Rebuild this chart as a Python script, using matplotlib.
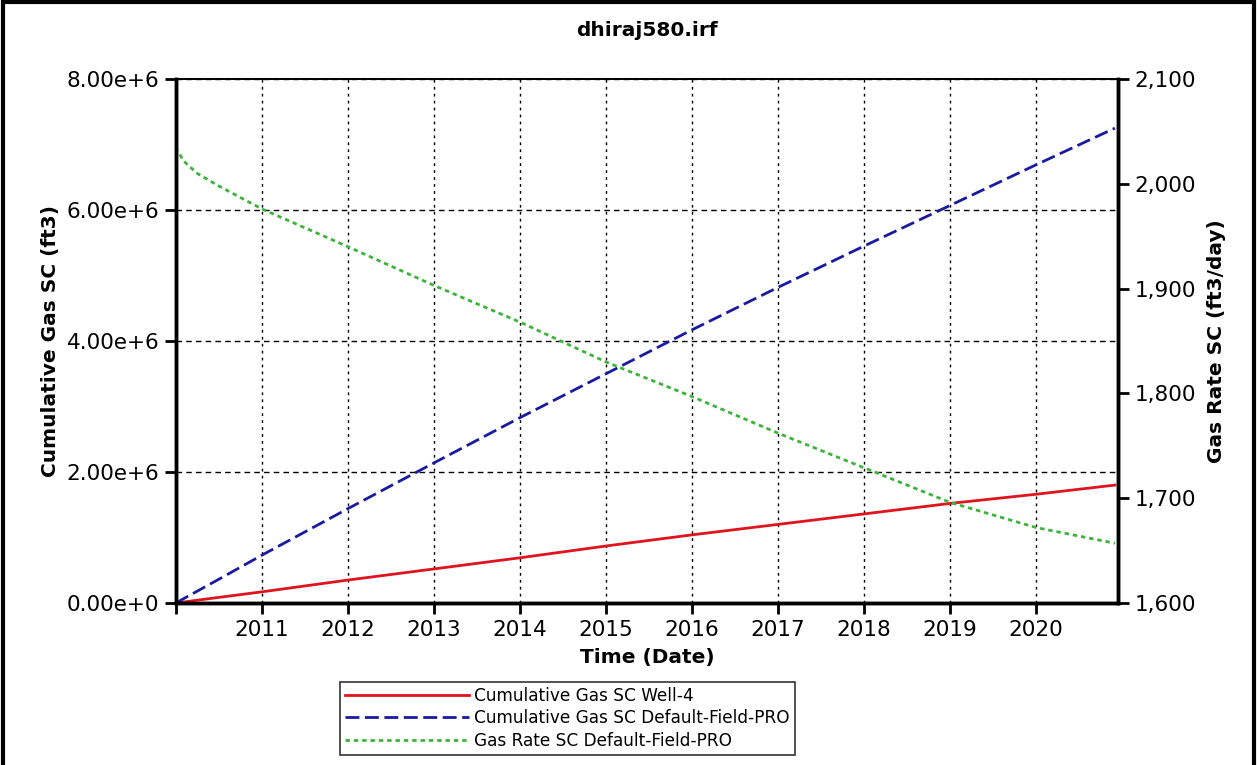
import matplotlib
matplotlib.use("Agg")
import matplotlib.pyplot as plt
import matplotlib.dates as mdates
from matplotlib.ticker import FuncFormatter, MultipleLocator
from matplotlib.patches import Rectangle
from datetime import datetime

# Data
dates = ["2010-01-01", "2010-02-01", "2010-04-01", "2010-07-01", "2011-01-01",
         "2012-01-01", "2013-01-01", "2014-01-01", "2015-01-01", "2016-01-01",
         "2017-01-01", "2018-01-01", "2019-01-01", "2020-01-01", "2020-12-01"]
cum_gas_well4 = [0.0, 0.014e6, 0.042e6, 0.085e6, 0.17e6,
                 0.35e6, 0.52e6, 0.69e6, 0.87e6, 1.04e6,
                 1.20e6, 1.36e6, 1.52e6, 1.66e6, 1.80e6]
cum_gas_field = [0.0, 0.063e6, 0.18e6, 0.36e6, 0.73e6,
                 1.44e6, 2.14e6, 2.83e6, 3.50e6, 4.17e6,
                 4.82e6, 5.45e6, 6.07e6, 6.69e6, 7.25e6]
gas_rate_field = [2035, 2022, 2010, 1998, 1976,
                  1940, 1903, 1868, 1830, 1797,
                  1762, 1729, 1696, 1672, 1657]

x = [datetime.strptime(d, "%Y-%m-%d") for d in dates]

plt.rcParams["font.family"] = ["DejaVu Sans"]
fs = 14.5
tick_fs = 15.5
leg_fs = 12.2

fig = plt.figure(figsize=(12.57, 7.65), dpi=100)
ax = fig.add_axes([0.140, 0.2118, 0.7494, 0.6849])
ax2 = ax.twinx()

l1, = ax.plot(x, cum_gas_well4, color="#e0141e", lw=2, linestyle="-", label="Cumulative Gas SC Well-4")
l2, = ax.plot(x, cum_gas_field, color="#1a1aa0", lw=2, linestyle=(0, (5, 2)), label="Cumulative Gas SC Default-Field-PRO")
l3, = ax2.plot(x, gas_rate_field, color="#3cb43c", lw=2, linestyle=(0, (1.6, 1.4)), label="Gas Rate SC Default-Field-PRO")

# axes ranges and ticks
ax.set_xlim(datetime(2010, 1, 1), datetime(2020, 12, 14))
ax.set_ylim(0, 8e6)
ax2.set_ylim(1600, 2100)
ax.xaxis.set_major_locator(mdates.YearLocator())
ax.xaxis.set_major_formatter(FuncFormatter(lambda v, p: "" if mdates.num2date(v).year == 2010 else mdates.num2date(v).strftime("%Y")))
ax.yaxis.set_major_locator(MultipleLocator(2e6))
ax2.yaxis.set_major_locator(MultipleLocator(100))

def sci_fmt(v, pos):
    if v == 0:
        return "0.00e+0"
    exp = 6
    return "{:.2f}e+{}".format(v / 10 ** exp, exp)

ax.yaxis.set_major_formatter(FuncFormatter(sci_fmt))
ax2.yaxis.set_major_formatter(FuncFormatter(lambda v, p: "{:,.0f}".format(v)))

ax.tick_params(axis="both", direction="out", length=8, width=2, labelsize=tick_fs, pad=4, colors="black")
ax2.tick_params(axis="y", direction="out", length=8, width=2, labelsize=tick_fs, pad=4)

# grid: dotted vertical, dashed horizontal
ax.xaxis.grid(True, linestyle=(0, (2, 3)), color="black", lw=1)
ax.yaxis.grid(True, linestyle=(0, (4, 3)), color="black", lw=1)
ax.set_axisbelow(True)

# spines
for s in ["left", "bottom", "right"]:
    ax.spines[s].set_linewidth(2.5)
    ax2.spines[s].set_linewidth(2.5)
ax.spines["top"].set_linewidth(1.2)
ax2.spines["top"].set_linewidth(1.2)

ax.set_title("dhiraj580.irf", fontsize=fs, fontweight="bold", pad=31)
ax.set_xlabel("Time (Date)", fontsize=fs, fontweight="bold", labelpad=6)
ax.set_ylabel("Cumulative Gas SC (ft3)", fontsize=fs, fontweight="bold", labelpad=5)
ax2.set_ylabel("Gas Rate SC (ft3/day)", fontsize=fs, fontweight="bold", labelpad=8)

# legend box under the chart
leg = fig.legend(handles=[l1, l2, l3], loc="upper left", bbox_to_anchor=(0.2705, 0.1085),
                 fontsize=leg_fs, frameon=True, fancybox=False, handlelength=7.3,
                 handletextpad=0.3, labelspacing=0.25, borderpad=0.3, borderaxespad=0)
leg.get_frame().set_edgecolor("black")
leg.get_frame().set_linewidth(1.2)

# black frame around the whole picture
fig.patches.append(Rectangle((0.002, -0.02), 0.996, 1.017, transform=fig.transFigure,
                             fill=False, edgecolor="black", lw=3))

fig.savefig("out.png", dpi=100)
